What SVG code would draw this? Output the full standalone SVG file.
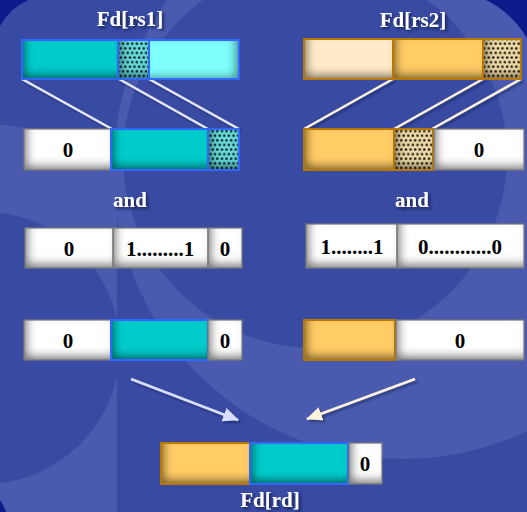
<svg xmlns="http://www.w3.org/2000/svg" width="527" height="512" viewBox="0 0 527 512">
  <style>
    .lbl { font-family: "Liberation Serif", "Times New Roman", serif; font-weight: bold; font-size: 21px; fill: #ffffff; text-anchor: middle; filter: url(#txtShadow); }
    .num { font-family: "Liberation Serif", "Times New Roman", serif; font-weight: bold; font-size: 21px; fill: #000000; text-anchor: middle; }
    .white { fill: #ffffff; }
    .teal { fill: #00cccc; }
    .cyan { fill: #80ffff; }
    .pale { fill: #ffebc8; }
    .orange { fill: #ffcc66; }
    .dotsC { fill: url(#patC); }
    .dotsO { fill: url(#patO); }
    .edgeW { fill: none; stroke: #7a7a7a; stroke-width: 1.2; }
    .edgeB { fill: none; stroke: #3366ff; stroke-width: 2; }
    .edgeO { fill: none; stroke: #b87800; stroke-width: 2; }
    .linkC { stroke: #e4e6ff; stroke-width: 2.5; fill: none; }
    .linkO { stroke: #fff2da; stroke-width: 2.5; fill: none; }
  </style>
  <defs>
    <!-- soft bevel: dark inner shade on left and bottom -->
    <filter id="shadeL" x="-50%" y="-50%" width="200%" height="200%">
      <feFlood flood-color="#000" flood-opacity="0.8" result="f"/>
      <feComposite in="f" in2="SourceAlpha" operator="out" result="outside"/>
      <feGaussianBlur in="outside" stdDeviation="4"/>
      <feOffset dx="4" dy="-5" result="sh"/>
      <feComposite in="sh" in2="SourceAlpha" operator="in" result="inner"/>
      <feMerge><feMergeNode in="SourceGraphic"/><feMergeNode in="inner"/></feMerge>
    </filter>
    <!-- soft bevel: dark inner shade on right and bottom -->
    <filter id="shadeR" x="-50%" y="-50%" width="200%" height="200%">
      <feFlood flood-color="#000" flood-opacity="0.7" result="f"/>
      <feComposite in="f" in2="SourceAlpha" operator="out" result="outside"/>
      <feGaussianBlur in="outside" stdDeviation="4"/>
      <feOffset dx="-5" dy="-3" result="sh"/>
      <feComposite in="sh" in2="SourceAlpha" operator="in" result="inner"/>
      <feMerge><feMergeNode in="SourceGraphic"/><feMergeNode in="inner"/></feMerge>
    </filter>
    <filter id="txtShadow" x="-20%" y="-30%" width="140%" height="160%">
      <feDropShadow dx="2" dy="2" stdDeviation="1.5" flood-color="#0d1640" flood-opacity="0.8"/>
    </filter>
    <filter id="lineShadow" x="-10%" y="-10%" width="120%" height="120%">
      <feDropShadow dx="2" dy="2" stdDeviation="1.2" flood-color="#0d1640" flood-opacity="0.45"/>
    </filter>
    <pattern id="patC" width="4.6" height="9.2" patternUnits="userSpaceOnUse">
      <rect width="4.6" height="9.2" fill="#66d8d8"/>
      <circle cx="1.15" cy="2.3" r="1.25" fill="#021414"/>
      <circle cx="3.45" cy="6.9" r="1.25" fill="#021414"/>
    </pattern>
    <pattern id="patO" width="4.6" height="9.2" patternUnits="userSpaceOnUse">
      <rect width="4.6" height="9.2" fill="#ecd8a6"/>
      <circle cx="1.15" cy="2.3" r="1.25" fill="#140e04"/>
      <circle cx="3.45" cy="6.9" r="1.25" fill="#140e04"/>
    </pattern>
    <marker id="headC" markerUnits="userSpaceOnUse" markerWidth="17" markerHeight="15" refX="15" refY="7" orient="auto">
      <path d="M0,0 L16,7 L0,14 Z" fill="#d8deff"/>
    </marker>
    <marker id="headO" markerUnits="userSpaceOnUse" markerWidth="17" markerHeight="15" refX="15" refY="7" orient="auto">
      <path d="M0,0 L16,7 L0,14 Z" fill="#fff2dc"/>
    </marker>
    <clipPath id="clipLeft"><rect x="0" y="0" width="117" height="512"/></clipPath>
    <clipPath id="clipRight"><rect x="117" y="0" width="410" height="512"/></clipPath>
  </defs>

  <!-- background -->
  <g id="background">
    <rect width="527" height="512" fill="#394aa3"/>
    <g clip-path="url(#clipRight)">
      <circle cx="403" cy="169" r="290" fill="#4a5aae"/>
      <circle cx="315" cy="156" r="192" fill="#394aa3"/>
    </g>
    <g clip-path="url(#clipLeft)">
      <circle cx="-16" cy="348" r="224" fill="#4a5aae"/>
      <circle cx="-16" cy="348" r="136" fill="#394aa3"/>
    </g>
    <path d="M0,0 L28,0 Q9,9 0,26 Z" fill="#0c1a8a"/>
    <path d="M486,0 L527,0 L527,38 Q511,12 486,0 Z" fill="#0c1a8a"/>
    <path d="M0,500 Q4,506 6,512 L0,512 Z" fill="#0c1a8a"/>
  </g>

  <!-- titles -->
  <g id="labels">
    <text class="lbl" x="130" y="26">Fd[rs1]</text>
    <text class="lbl" x="413" y="27">Fd[rs2]</text>
    <text class="lbl" x="130" y="207">and</text>
    <text class="lbl" x="412" y="207">and</text>
    <text class="lbl" x="270" y="507">Fd[rd]</text>
  </g>

  <!-- connectors -->
  <g id="connectors" filter="url(#lineShadow)">
    <line class="linkC" x1="22" y1="79" x2="112" y2="129"/>
    <line class="linkC" x1="119" y1="79" x2="208" y2="129"/>
    <line class="linkC" x1="149" y1="79" x2="239" y2="129"/>
    <line class="linkO" x1="393" y1="79" x2="304" y2="129"/>
    <line class="linkO" x1="483" y1="79" x2="394" y2="129"/>
    <line class="linkO" x1="521" y1="79" x2="432" y2="129"/>
    <line x1="131" y1="379" x2="238" y2="420" stroke="#d8deff" stroke-width="2.5" marker-end="url(#headC)"/>
    <line x1="415" y1="379" x2="307" y2="419" stroke="#fff2dc" stroke-width="2.5" marker-end="url(#headO)"/>
  </g>

  <!-- Fd[rs1] register -->
  <g id="rs1">
    <rect class="teal" x="22" y="40" width="96" height="39" filter="url(#shadeL)"/>
    <rect class="dotsC" x="118" y="40" width="31" height="39" filter="url(#shadeL)"/>
    <rect class="cyan" x="149" y="40" width="90" height="39" filter="url(#shadeR)"/>
    <rect class="edgeB" x="22" y="40" width="96" height="39"/>
    <rect class="edgeB" x="118" y="40" width="31" height="39"/>
    <rect class="edgeB" x="149" y="40" width="90" height="39"/>
  </g>

  <!-- Fd[rs2] register -->
  <g id="rs2">
    <rect class="pale" x="304" y="39" width="89" height="40" filter="url(#shadeL)"/>
    <rect class="orange" x="393" y="39" width="90" height="40" filter="url(#shadeL)"/>
    <rect class="dotsO" x="483" y="39" width="38" height="40" filter="url(#shadeL)"/>
    <rect class="edgeO" x="304" y="39" width="89" height="40"/>
    <rect class="edgeO" x="393" y="39" width="90" height="40"/>
    <rect class="edgeO" x="483" y="39" width="38" height="40"/>
  </g>

  <!-- rs1 shifted right -->
  <g id="rs1-shifted">
    <rect class="white" x="24" y="129" width="87" height="41" filter="url(#shadeL)"/>
    <rect class="edgeW" x="24" y="129" width="87" height="41"/>
    <rect class="teal" x="111" y="129" width="97" height="41" filter="url(#shadeL)"/>
    <rect class="dotsC" x="208" y="129" width="31" height="41" filter="url(#shadeL)"/>
    <rect class="edgeB" x="111" y="129" width="97" height="41"/>
    <rect class="edgeB" x="208" y="129" width="31" height="41"/>
    <text class="num" x="68" y="157">0</text>
  </g>

  <!-- rs2 shifted left -->
  <g id="rs2-shifted">
    <rect class="orange" x="304" y="129" width="90" height="41" filter="url(#shadeL)"/>
    <rect class="dotsO" x="394" y="129" width="39" height="41" filter="url(#shadeL)"/>
    <rect class="edgeO" x="304" y="129" width="90" height="41"/>
    <rect class="edgeO" x="394" y="129" width="39" height="41"/>
    <rect class="white" x="434" y="129" width="90" height="41" filter="url(#shadeL)"/>
    <rect class="edgeW" x="434" y="129" width="90" height="41"/>
    <text class="num" x="479" y="157">0</text>
  </g>

  <!-- mask for rs1 -->
  <g id="mask1">
    <rect class="white" x="25" y="228" width="88" height="40" filter="url(#shadeL)"/>
    <rect class="white" x="113" y="228" width="95" height="40" filter="url(#shadeL)"/>
    <rect class="white" x="208" y="228" width="34" height="40" filter="url(#shadeL)"/>
    <rect class="edgeW" x="25" y="228" width="88" height="40"/>
    <rect class="edgeW" x="113" y="228" width="95" height="40"/>
    <rect class="edgeW" x="208" y="228" width="34" height="40"/>
    <text class="num" x="69" y="256">0</text>
    <text class="num" x="160" y="256">1.........1</text>
    <text class="num" x="225" y="256">0</text>
  </g>

  <!-- mask for rs2 -->
  <g id="mask2">
    <rect class="white" x="306" y="224" width="91" height="44" filter="url(#shadeL)"/>
    <rect class="white" x="397" y="224" width="127" height="44" filter="url(#shadeL)"/>
    <rect class="edgeW" x="306" y="224" width="91" height="44"/>
    <rect class="edgeW" x="397" y="224" width="127" height="44"/>
    <text class="num" x="352" y="254">1........1</text>
    <text class="num" x="460" y="254">0............0</text>
  </g>

  <!-- rs1 after masking -->
  <g id="rs1-masked">
    <rect class="white" x="24" y="320" width="87" height="40" filter="url(#shadeL)"/>
    <rect class="edgeW" x="24" y="320" width="87" height="40"/>
    <rect class="teal" x="111" y="320" width="97" height="40" filter="url(#shadeL)"/>
    <rect class="edgeB" x="111" y="320" width="97" height="40"/>
    <rect class="white" x="208" y="320" width="34" height="40" filter="url(#shadeL)"/>
    <rect class="edgeW" x="208" y="320" width="34" height="40"/>
    <text class="num" x="68" y="348">0</text>
    <text class="num" x="225" y="348">0</text>
  </g>

  <!-- rs2 after masking -->
  <g id="rs2-masked">
    <rect class="orange" x="304" y="320" width="91" height="40" filter="url(#shadeL)"/>
    <rect class="edgeO" x="304" y="320" width="91" height="40"/>
    <rect class="white" x="396" y="320" width="128" height="40" filter="url(#shadeL)"/>
    <rect class="edgeW" x="396" y="320" width="128" height="40"/>
    <text class="num" x="460" y="348">0</text>
  </g>

  <!-- Fd[rd] result -->
  <g id="rd">
    <rect class="orange" x="161" y="443" width="89" height="41" filter="url(#shadeL)"/>
    <rect class="edgeO" x="161" y="443" width="89" height="41"/>
    <rect class="teal" x="250" y="443" width="98" height="41" filter="url(#shadeL)"/>
    <rect class="edgeB" x="250" y="443" width="98" height="41"/>
    <rect class="white" x="349" y="443" width="33" height="41" filter="url(#shadeL)"/>
    <rect class="edgeW" x="349" y="443" width="33" height="41"/>
    <text class="num" x="365" y="471">0</text>
  </g>
</svg>
